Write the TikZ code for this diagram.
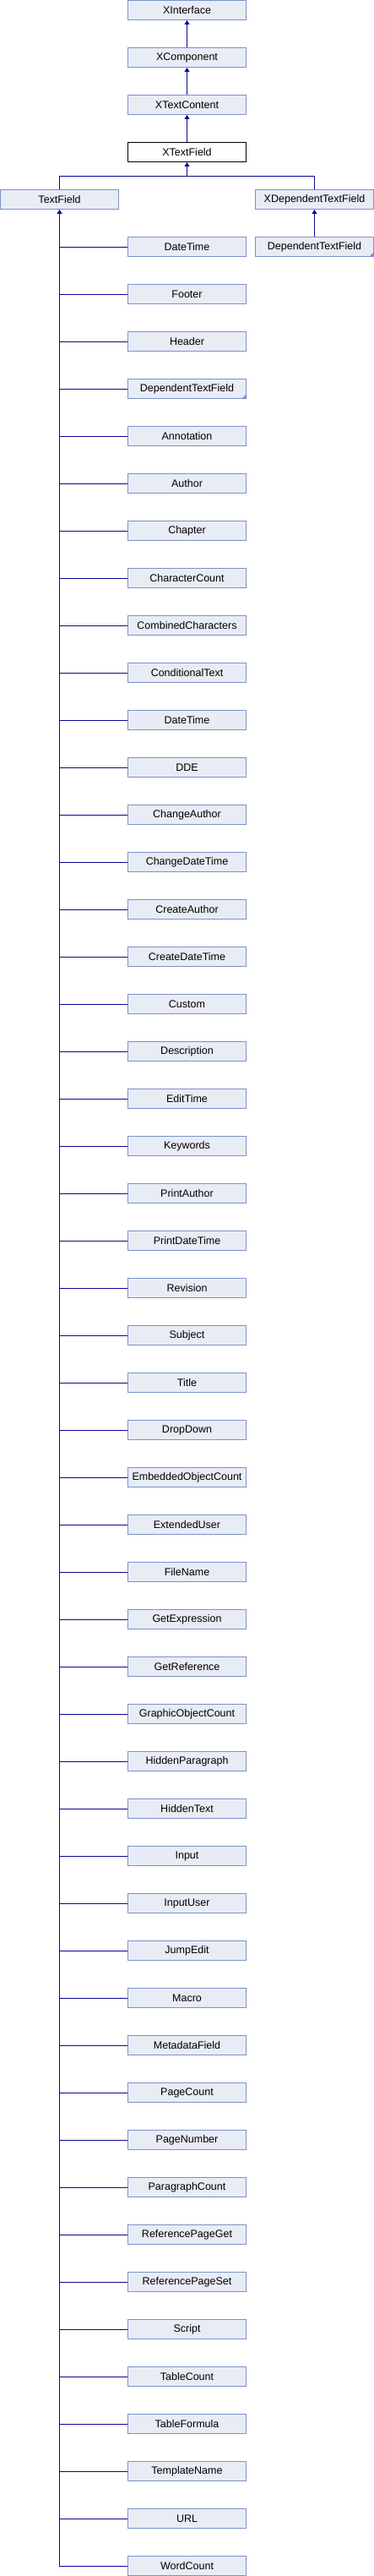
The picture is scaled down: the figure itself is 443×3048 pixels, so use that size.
\documentclass[tikz,border=0pt]{standalone}
\usepackage{fontspec}
\setmainfont{Liberation Sans}
\usetikzlibrary{arrows.meta}
\definecolor{boxfill}{RGB}{232,236,244}
\definecolor{boxline}{RGB}{124,145,202}
\definecolor{edgecol}{RGB}{8,8,145}
\tikzset{
  cls/.style={draw=boxline, fill=boxfill, line width=1pt, minimum width=140pt, minimum height=23pt, inner sep=0pt, font=\fontsize{12.5}{14}\selectfont},
  curcls/.style={cls, draw=black, fill=white},
  inh/.style={draw=edgecol, line width=1pt, -{Triangle[width=6pt,length=5pt]}},
  lnk/.style={draw=edgecol, line width=1pt},
  more/.style={fill=boxline}
}
\begin{document}
\begin{tikzpicture}[x=1pt,y=-1pt]
\useasboundingbox (0,0) rectangle (443,3048);
\node[cls] (xi) at (221.5,12) {XInterface};
\node[cls] (xc) at (221.5,68) {XComponent};
\node[cls] (xtc) at (221.5,124) {XTextContent};
\node[curcls] (xtf) at (221.5,180) {XTextField};
\node[cls] (tf) at (70.5,236) {TextField};
\node[cls] (xdtf) at (372.5,236) {XDependentTextField};
\node[cls] (dtfr) at (372.5,292) {DependentTextField};
\fill[more] (dtfr.south east) -- ++(-6,0) -- ++(6,-6) -- cycle;
\draw[inh] (xc.north) -- (xi.south);
\draw[inh] (xtc.north) -- (xc.south);
\draw[inh] (xtf.north) -- (xtc.south);
\coordinate (j) at (221.5,208.5);
\draw[lnk] (tf.north) |- (j) -| (xdtf.north);
\draw[inh] (j) -- (xtf.south);
\draw[inh] (dtfr.north) -- (xdtf.south);
\foreach \name [count=\i from 0] in {DateTime,Footer,Header,DependentTextField,Annotation,Author,Chapter,CharacterCount,CombinedCharacters,ConditionalText,DateTime,DDE,ChangeAuthor,ChangeDateTime,CreateAuthor,CreateDateTime,Custom,Description,EditTime,Keywords,PrintAuthor,PrintDateTime,Revision,Subject,Title,DropDown,EmbeddedObjectCount,ExtendedUser,FileName,GetExpression,GetReference,GraphicObjectCount,HiddenParagraph,HiddenText,Input,InputUser,JumpEdit,Macro,MetadataField,PageCount,PageNumber,ParagraphCount,ReferencePageGet,ReferencePageSet,Script,TableCount,TableFormula,TemplateName,URL,WordCount}{
  \node[cls] (c\i) at (221.5,{292+56*\i}) {\name};
  \draw[lnk] ([yshift=-0.5pt]c\i.west) -- ([yshift=-0.5pt]c\i.west -| tf.south);
}
\fill[more] (c3.south east) -- ++(-6,0) -- ++(6,-6) -- cycle;
\draw[inh] ([yshift=-0.5pt]c49.west -| tf.south) -- (tf.south);
\end{tikzpicture}
\end{document}
